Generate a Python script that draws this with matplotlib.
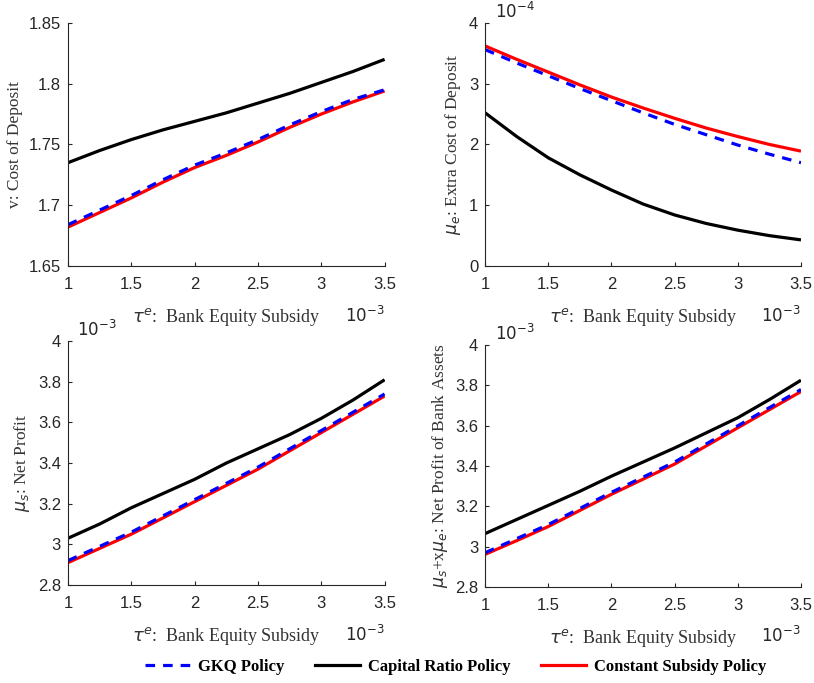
import matplotlib
matplotlib.use("Agg")
import matplotlib.pyplot as plt
from matplotlib.lines import Line2D

# x: bank equity subsidy (units of 1e-3)
tau = [1.0, 1.25, 1.5, 1.75, 2.0, 2.25, 2.5, 2.75, 3.0, 3.25, 3.5]

# v: cost of deposit
v_gkq = [1.684, 1.696, 1.708, 1.721, 1.733, 1.743, 1.754, 1.766, 1.777, 1.787, 1.795]
v_cap = [1.735, 1.745, 1.754, 1.762, 1.769, 1.776, 1.784, 1.792, 1.801, 1.810, 1.820]
v_con = [1.682, 1.694, 1.706, 1.719, 1.731, 1.741, 1.752, 1.764, 1.775, 1.785, 1.794]

# mu_e: extra cost of deposit (units of 1e-4)
me_gkq = [3.56, 3.34, 3.13, 2.92, 2.72, 2.52, 2.33, 2.16, 1.99, 1.84, 1.70]
me_cap = [2.52, 2.13, 1.78, 1.50, 1.25, 1.02, 0.84, 0.70, 0.59, 0.50, 0.43]
me_con = [3.62, 3.40, 3.19, 2.98, 2.78, 2.60, 2.43, 2.27, 2.13, 2.00, 1.89]

# mu_s: net profit (units of 1e-3)
ms_gkq = [2.92, 2.99, 3.06, 3.14, 3.22, 3.30, 3.38, 3.47, 3.56, 3.65, 3.74]
ms_cap = [3.03, 3.10, 3.18, 3.25, 3.32, 3.40, 3.47, 3.54, 3.62, 3.71, 3.81]
ms_con = [2.91, 2.98, 3.05, 3.13, 3.21, 3.29, 3.37, 3.46, 3.55, 3.64, 3.73]

# mu_s + x mu_e: net profit of bank assets (units of 1e-3)
mt_gkq = [2.97, 3.04, 3.11, 3.19, 3.27, 3.345, 3.42, 3.51, 3.60, 3.69, 3.78]
mt_cap = [3.065, 3.135, 3.205, 3.275, 3.35, 3.42, 3.49, 3.565, 3.64, 3.73, 3.826]
mt_con = [2.962, 3.03, 3.10, 3.18, 3.26, 3.335, 3.41, 3.50, 3.59, 3.68, 3.77]

series_names = ["GKQ Policy", "Capital Ratio Policy", "Constant Subsidy Policy"]

serif = "Liberation Serif"
sans = "Liberation Sans"
tick_col = "#262626"

fig = plt.figure(figsize=(8.14, 6.83), dpi=100)

panels = [
    dict(pos=[0.0835, 0.6105, 0.389, 0.356], data=(v_gkq, v_cap, v_con),
         ylim=(1.65, 1.85), yticks=[1.65, 1.7, 1.75, 1.8, 1.85],
         yticklabels=["1.65", "1.7", "1.75", "1.8", "1.85"],
         ylabel=r"v: Cost of Deposit", yoff=None),
    dict(pos=[0.596, 0.6105, 0.388, 0.356], data=(me_gkq, me_cap, me_con),
         ylim=(0, 4), yticks=[0, 1, 2, 3, 4],
         yticklabels=["0", "1", "2", "3", "4"],
         ylabel=r"$\mu_e$: Extra Cost of Deposit", yoff=r"$10^{-4}$"),
    dict(pos=[0.0835, 0.1435, 0.389, 0.357], data=(ms_gkq, ms_cap, ms_con),
         ylim=(2.8, 4.0), yticks=[2.8, 3.0, 3.2, 3.4, 3.6, 3.8, 4.0],
         yticklabels=["2.8", "3", "3.2", "3.4", "3.6", "3.8", "4"],
         ylabel=r"$\mu_s$: Net Profit", yoff=r"$10^{-3}$"),
    dict(pos=[0.596, 0.1406, 0.388, 0.354], data=(mt_gkq, mt_cap, mt_con),
         ylim=(2.8, 4.0), yticks=[2.8, 3.0, 3.2, 3.4, 3.6, 3.8, 4.0],
         yticklabels=["2.8", "3", "3.2", "3.4", "3.6", "3.8", "4"],
         ylabel=r"$\mu_s$+x$\mu_e$: Net Profit of Bank Assets", yoff=r"$10^{-3}$"),
]

for p in panels:
    ax = fig.add_axes(p["pos"])
    gkq, cap, con = p["data"]
    ax.plot(tau, cap, color="black", lw=2.3, solid_capstyle="butt")
    ax.plot(tau, con, color="red", lw=2.3, solid_capstyle="butt")
    ax.plot(tau, gkq, color="blue", lw=2.3, ls=(0, (3, 2.5)))
    ax.set_xlim(1, 3.5)
    ax.set_ylim(*p["ylim"])
    ax.set_xticks([1, 1.5, 2, 2.5, 3, 3.5])
    ax.set_xticklabels(["1", "1.5", "2", "2.5", "3", "3.5"])
    ax.set_yticks(p["yticks"])
    ax.set_yticklabels(p["yticklabels"])
    for s in ["top", "right"]:
        ax.spines[s].set_visible(False)
    for s in ["left", "bottom"]:
        ax.spines[s].set_linewidth(0.8)
        ax.spines[s].set_color(tick_col)
    ax.tick_params(direction="in", length=3, width=0.8, colors=tick_col,
                   labelsize=12)
    ax.tick_params(axis="x", pad=8)
    ax.tick_params(axis="y", pad=5)
    for lab in ax.get_xticklabels() + ax.get_yticklabels():
        lab.set_fontfamily(sans)
    ax.set_xlabel(r"$\tau^e$:  Bank Equity Subsidy", fontfamily=serif,
                  fontsize=13, color="#333333", labelpad=10)
    ax.set_ylabel(p["ylabel"], fontfamily=serif, fontsize=12.5,
                  color="#333333", labelpad=4)
    ax.text(1.0, -0.2, r"$10^{-3}$", transform=ax.transAxes, ha="right",
            va="center", fontfamily=sans, fontsize=12, color=tick_col)
    if p["yoff"]:
        ax.text(0.03, 1.05, p["yoff"], transform=ax.transAxes, ha="left",
                va="center", fontfamily=sans, fontsize=12, color=tick_col)

handles = [
    Line2D([], [], color="blue", lw=2.3, ls=(0, (3, 2.5))),
    Line2D([], [], color="black", lw=2.3),
    Line2D([], [], color="red", lw=2.3),
]
fig.legend(handles, series_names, loc="center", bbox_to_anchor=(0.56, 0.023),
           ncol=3, frameon=False, prop={"family": serif, "size": 12, "weight": "bold"},
           handlelength=2.7, columnspacing=1.8, handletextpad=0.5)

fig.savefig("out.png", dpi=100)
